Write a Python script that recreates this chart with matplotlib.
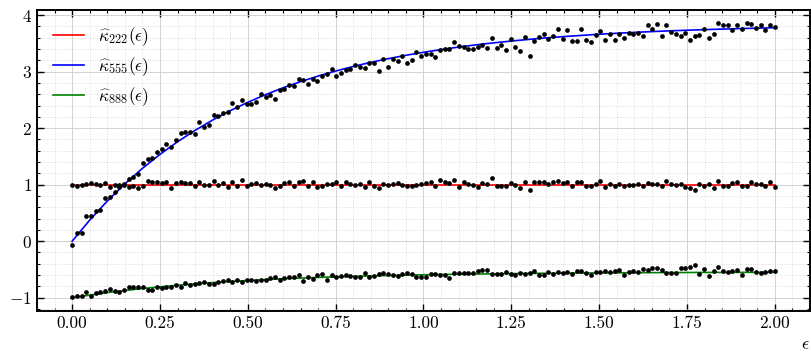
import numpy as np
import matplotlib
matplotlib.use("Agg")
import matplotlib.pyplot as plt

plt.rcParams['font.family'] = 'serif'
plt.rcParams['font.serif'] = ['cmr10', 'DejaVu Serif']
plt.rcParams['mathtext.fontset'] = 'cm'
plt.rcParams['axes.formatter.use_mathtext'] = True

# 150 evenly spaced samples on [0, 2]
eps = np.linspace(0, 2, 150)

kappa_222 = [
    0.994, 0.976, 0.988, 1.018, 1.029, 1.006, 0.988, 1.035, 0.959, 0.988,
    0.994, 1.018, 0.953, 0.976, 0.947, 0.976, 1.071, 1.053, 1.047, 1.035,
    1.041, 0.947, 1.029, 1.053, 1.035, 1.024, 0.976, 1.047, 0.994, 0.994,
    1.071, 0.994, 1.029, 0.953, 1.041, 0.976, 1.088, 0.982, 1.018, 1.024,
    0.994, 1.018, 0.994, 0.947, 0.971, 1.029, 1.053, 0.971, 1.047, 1.065,
    0.976, 1.053, 0.953, 0.976, 1.018, 1.006, 1.041, 0.976, 1.053, 1.018,
    1.000, 1.006, 0.959, 1.047, 0.971, 0.947, 1.018, 0.988, 1.012, 1.035,
    0.994, 0.982, 0.982, 1.000, 1.006, 1.035, 1.053, 0.976, 1.088, 1.053,
    1.029, 1.082, 0.965, 1.041, 1.018, 0.994, 0.959, 1.029, 1.018, 1.118,
    0.976, 0.982, 0.976, 1.024, 0.994, 0.935, 1.047, 0.906, 1.041, 1.041,
    1.047, 1.006, 1.041, 1.059, 1.029, 1.047, 0.976, 1.041, 1.041, 0.971,
    0.971, 1.018, 1.059, 0.953, 1.006, 0.982, 1.018, 0.982, 0.994, 1.000,
    1.006, 0.982, 1.035, 1.018, 1.018, 0.982, 1.065, 1.012, 1.000, 1.018,
    0.965, 0.935, 0.912, 1.018, 0.971, 1.012, 0.947, 1.065, 0.982, 0.982,
    1.035, 1.041, 0.982, 0.971, 1.041, 1.006, 1.012, 0.971, 1.047, 0.953,
]

kappa_555 = [
    -0.059, 0.141, 0.141, 0.441, 0.453, 0.541, 0.547, 0.759, 0.776, 0.865,
    0.953, 1.000, 1.100, 1.129, 1.188, 1.382, 1.453, 1.465, 1.571, 1.629,
    1.718, 1.659, 1.794, 1.906, 1.935, 1.924, 1.894, 2.100, 2.012, 2.053,
    2.229, 2.218, 2.265, 2.288, 2.453, 2.382, 2.494, 2.424, 2.424, 2.465,
    2.600, 2.553, 2.582, 2.512, 2.676, 2.688, 2.765, 2.747, 2.865, 2.847,
    2.788, 2.865, 2.829, 2.918, 2.965, 3.041, 2.918, 2.982, 3.024, 3.053,
    3.112, 3.088, 3.065, 3.147, 3.159, 3.006, 3.218, 3.088, 3.218, 3.182,
    3.271, 3.147, 3.200, 3.347, 3.276, 3.306, 3.306, 3.265, 3.388, 3.406,
    3.394, 3.524, 3.453, 3.435, 3.394, 3.394, 3.435, 3.465, 3.418, 3.588,
    3.418, 3.471, 3.376, 3.571, 3.435, 3.365, 3.612, 3.276, 3.541, 3.618,
    3.671, 3.582, 3.629, 3.759, 3.582, 3.735, 3.541, 3.541, 3.747, 3.553,
    3.529, 3.641, 3.712, 3.559, 3.659, 3.559, 3.671, 3.600, 3.688, 3.659,
    3.688, 3.629, 3.824, 3.747, 3.835, 3.629, 3.824, 3.700, 3.659, 3.629,
    3.688, 3.553, 3.629, 3.641, 3.759, 3.588, 3.671, 3.853, 3.818, 3.818,
    3.729, 3.818, 3.759, 3.853, 3.835, 3.765, 3.824, 3.729, 3.818, 3.794,
]

kappa_888 = [
    -0.982, -0.976, -0.965, -0.906, -0.976, -0.918, -0.894, -0.882, -0.853, -0.888,
    -0.894, -0.871, -0.806, -0.806, -0.818, -0.818, -0.865, -0.865, -0.806, -0.835,
    -0.818, -0.812, -0.782, -0.818, -0.741, -0.776, -0.753, -0.741, -0.724, -0.765,
    -0.765, -0.729, -0.712, -0.694, -0.729, -0.688, -0.724, -0.682, -0.682, -0.706,
    -0.694, -0.694, -0.653, -0.641, -0.682, -0.647, -0.629, -0.629, -0.606, -0.700,
    -0.629, -0.665, -0.594, -0.588, -0.688, -0.600, -0.635, -0.612, -0.600, -0.624,
    -0.635, -0.629, -0.565, -0.641, -0.618, -0.588, -0.571, -0.588, -0.600, -0.624,
    -0.582, -0.571, -0.588, -0.629, -0.629, -0.629, -0.588, -0.588, -0.600, -0.606,
    -0.647, -0.565, -0.571, -0.571, -0.571, -0.571, -0.535, -0.506, -0.512, -0.588,
    -0.588, -0.582, -0.553, -0.588, -0.600, -0.565, -0.582, -0.571, -0.535, -0.600,
    -0.600, -0.547, -0.588, -0.553, -0.571, -0.553, -0.588, -0.524, -0.535, -0.571,
    -0.600, -0.553, -0.553, -0.524, -0.553, -0.524, -0.512, -0.594, -0.547, -0.535,
    -0.553, -0.494, -0.506, -0.471, -0.471, -0.512, -0.565, -0.565, -0.565, -0.482,
    -0.471, -0.453, -0.429, -0.588, -0.494, -0.624, -0.524, -0.453, -0.535, -0.553,
    -0.535, -0.518, -0.600, -0.494, -0.500, -0.547, -0.559, -0.553, -0.529, -0.535,
]

# fitted curves
fit_x_222 = [0.0, 2.0]
fit_222 = [1.0, 1.0]

fit_x_555 = np.linspace(0, 2, 41)
fit_555 = [
    0.000, 0.373, 0.710, 1.013, 1.288, 1.536, 1.759, 1.961, 2.144, 2.309,
    2.457, 2.592, 2.713, 2.822, 2.921, 3.010, 3.091, 3.164, 3.229, 3.289,
    3.342, 3.390, 3.434, 3.474, 3.509, 3.541, 3.570, 3.597, 3.620, 3.641,
    3.661, 3.678, 3.694, 3.708, 3.721, 3.732, 3.743, 3.752, 3.761, 3.769,
    3.776,
]

fit_x_888 = np.linspace(0, 2, 21)
fit_888 = [
    -1.000, -0.909, -0.837, -0.779, -0.732, -0.695, -0.665, -0.641, -0.622, -0.607,
    -0.594, -0.584, -0.577, -0.570, -0.565, -0.561, -0.558, -0.555, -0.553, -0.552,
    -0.550,
]

fig = plt.figure(figsize=(8.12, 3.57), dpi=100)
ax = fig.add_axes([37 / 812, 1 - 311 / 357, 773 / 812, 301 / 357])

ax.plot(fit_x_222, fit_222, color='red', lw=1.2, label=r'$\widehat{\kappa}_{222}(\epsilon)$')
ax.plot(fit_x_555, fit_555, color='blue', lw=1.2, label=r'$\widehat{\kappa}_{555}(\epsilon)$')
ax.plot(fit_x_888, fit_888, color='green', lw=1.2, label=r'$\widehat{\kappa}_{888}(\epsilon)$')

for series in (kappa_222, kappa_555, kappa_888):
    ax.plot(eps, series, 'o', color='black', ms=3.4, mec='none', zorder=3)

ax.set_xticks([0, 0.25, 0.5, 0.75, 1.0, 1.25, 1.5, 1.75, 2.0])
ax.set_xticks(np.arange(-0.1, 2.101, 0.05), minor=True)
ax.set_yticks([-1, 0, 1, 2, 3, 4])
ax.set_yticks(np.arange(-1.2, 4.01, 0.2), minor=True)
ax.set_xticklabels(['0.00', '0.25', '0.50', '0.75', '1.00', '1.25', '1.50', '1.75', '2.00'])
ax.set_xlim(-0.1, 2.1)
ax.set_ylim(-1.235, 4.09)

ax.tick_params(which='both', direction='in', top=True, right=True, labelsize=12.5)
ax.tick_params(which='major', length=5, width=1.0)
ax.tick_params(which='minor', length=2.5, width=0.8)
for s in ax.spines.values():
    s.set_linewidth(1.4)

ax.grid(which='major', color='#cccccc', linestyle='-', linewidth=0.6)
ax.grid(which='minor', color='#d5d5d5', linestyle=':', linewidth=0.6)
ax.set_axisbelow(True)

ax.set_xlabel(r'$\epsilon$', loc='right', fontsize=13)
ax.legend(loc='upper left', frameon=False, fontsize=12.5, handlelength=1.8, labelspacing=0.4)

fig.savefig('out.png', dpi=100)
